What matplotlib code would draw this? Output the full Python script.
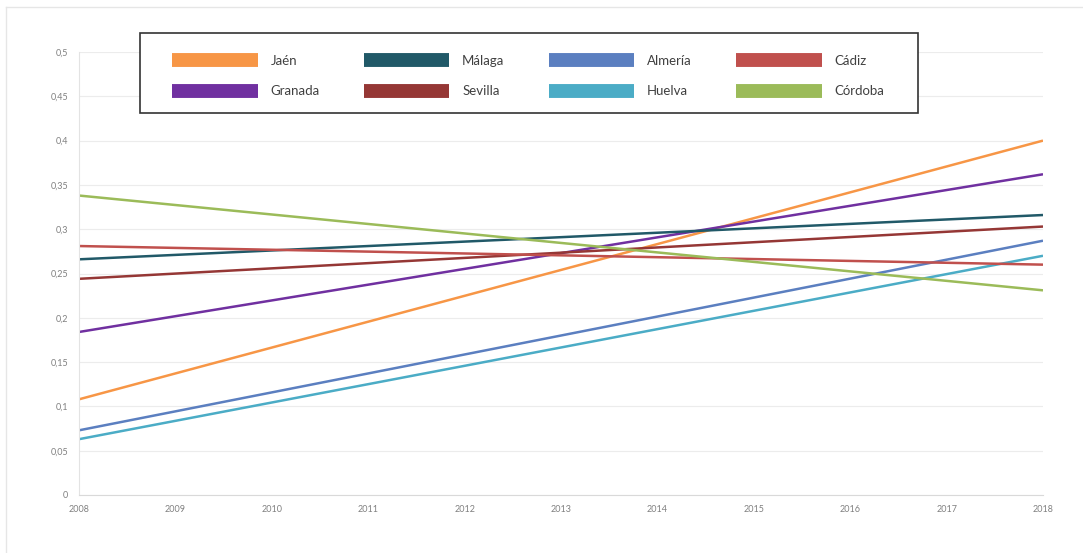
import matplotlib.pyplot as plt
from matplotlib.lines import Line2D
from matplotlib.patches import Rectangle
from matplotlib.ticker import FuncFormatter

# trend lines: value in 2008 and in 2018 (straight lines)
years = [2008, 2018]
tick_years = [2008, 2009, 2010, 2011, 2012, 2013, 2014, 2015, 2016, 2017, 2018]
y_ticks = [0, 0.05, 0.1, 0.15, 0.2, 0.25, 0.3, 0.35, 0.4, 0.45, 0.5]

# order follows the legend columns (column-major)
names = ['Jaén', 'Granada', 'Málaga', 'Sevilla', 'Almería', 'Huelva', 'Cádiz', 'Córdoba']
jaen = [0.108, 0.400]
granada = [0.184, 0.362]
malaga = [0.266, 0.316]
sevilla = [0.244, 0.303]
almeria = [0.073, 0.287]
huelva = [0.063, 0.270]
cadiz = [0.281, 0.260]
cordoba = [0.338, 0.231]
series = [jaen, granada, malaga, sevilla, almeria, huelva, cadiz, cordoba]
colors = ['#F79646', '#7030A0', '#215968', '#953735', '#5B7FC0', '#4BACC6', '#C0504D', '#9BBB59']

plt.rcParams['font.family'] = ['Lato', 'DejaVu Sans']

W, H = 1083, 553
fig = plt.figure(figsize=(W/100, H/100), dpi=100)
ax = fig.add_axes([79/W, 1 - 495/H, (1043 - 79)/W, (495 - 52)/H])

# faint outer border (top and left)
fig.add_artist(Line2D([6/W, 1], [1 - 7/H, 1 - 7/H], transform=fig.transFigure, color='#e6e6e6', lw=1))
fig.add_artist(Line2D([6/W, 6/W], [0, 1 - 7/H], transform=fig.transFigure, color='#e6e6e6', lw=1))

for name, vals, c in zip(names, series, colors):
    ax.plot(years, vals, color=c, lw=1.8, solid_capstyle='butt')

ax.set_xlim(2008, 2018)
ax.set_ylim(0, 0.5)
ax.set_xticks(tick_years)
ax.set_yticks(y_ticks)
ax.yaxis.set_major_formatter(FuncFormatter(lambda v, p: ('%g' % round(v, 2)).replace('.', ',')))
ax.tick_params(axis='both', length=0, labelsize=6.5, labelcolor='#808080')
ax.tick_params(axis='x', pad=7)
ax.tick_params(axis='y', pad=8)
ax.grid(axis='y', color='#ececec', lw=0.8)
ax.set_axisbelow(True)
for s in ['top', 'right']:
    ax.spines[s].set_visible(False)
ax.spines['left'].set_color('#e3e3e3')
ax.spines['bottom'].set_color('#d9d9d9')

# legend frame drawn separately, legend content placed inside it
fig.add_artist(Rectangle((140/W, 1 - 113/H), 778/W, 80/H, transform=fig.transFigure,
                         facecolor='white', edgecolor='#333333', lw=1.2, zorder=3))
handles = [Line2D([], [], color=c, lw=10, solid_capstyle='butt') for c in colors]
leg = fig.legend(handles, names, ncol=4, loc='upper left', mode='expand',
                 bbox_to_anchor=(172/W, 1 - 104/H, 712/W, 49/H),
                 fontsize=9.5, handlelength=6.5, handletextpad=0.95, labelspacing=1.38,
                 borderpad=0, borderaxespad=0, frameon=False)
leg.set_zorder(4)
for t in leg.get_texts():
    t.set_color('#404040')

fig.savefig('out.png', dpi=100)
